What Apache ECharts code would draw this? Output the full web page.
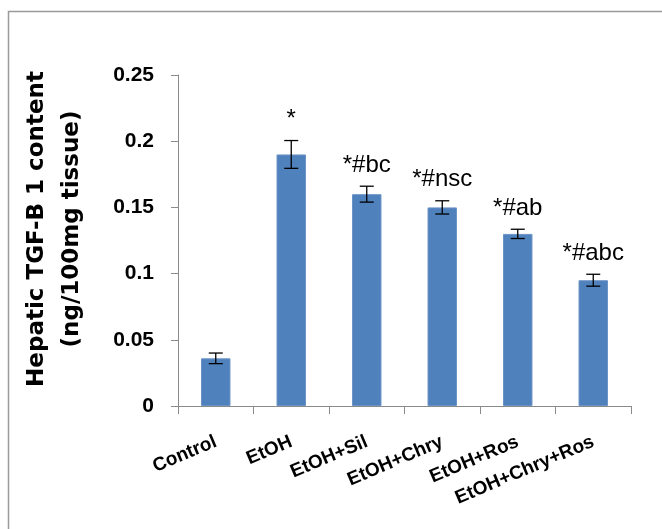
<!DOCTYPE html>
<html>
<head>
<meta charset="utf-8">
<script src="https://cdn.jsdelivr.net/npm/echarts@6/dist/echarts.min.js"></script>
<style>
html,body{margin:0;padding:0;background:#fff;}
#chart{width:662px;height:529px;}
</style>
</head>
<body>
<div id="chart"></div>
<script>
const categories = ['Control', 'EtOH', 'EtOH+Sil', 'EtOH+Chry', 'EtOH+Ros', 'EtOH+Chry+Ros'];
const means = [0.036, 0.190, 0.160, 0.150, 0.130, 0.095];
const errors = [0.004, 0.0105, 0.006, 0.005, 0.0035, 0.0045];
const sigLabels = ['', '*', '*#bc', '*#nsc', '*#ab', '*#abc'];
const yTicks = [0, 0.05, 0.1, 0.15, 0.2, 0.25];
const yTitle = ['Hepatic TGF-B 1 content', '(ng/100mg tissue)'];

const chart = echarts.init(document.getElementById('chart'));
const axisColor = '#8a8a8a';

chart.setOption({
  animation: false,
  backgroundColor: '#fff',
  grid: {left: 178, right: 31, top: 75, bottom: 123, outerBoundsMode: 'none'},
  graphic: [
    {type: 'rect', shape: {x: 8.5, y: 11.5, width: 700, height: 600},
     style: {fill: 'none', stroke: '#9a9a9a', lineWidth: 1.5}, silent: true},
    {type: 'text', x: 55, y: 229, rotation: Math.PI / 2,
     style: {text: yTitle.join('\n'), font: 'bold 23px "DejaVu Sans"', fill: '#000',
             align: 'center', verticalAlign: 'middle', lineHeight: 35}}
  ],
  xAxis: {
    type: 'category',
    data: categories,
    axisLine: {lineStyle: {color: axisColor, width: 1}},
    axisTick: {show: true, length: 8, lineStyle: {color: axisColor}},
    axisLabel: {rotate: 23, margin: 35, color: '#000', fontWeight: 'bold',
                fontSize: 19, fontFamily: '"Liberation Sans", Arial, sans-serif', interval: 0}
  },
  yAxis: {
    type: 'value',
    min: yTicks[0], max: yTicks[yTicks.length - 1], interval: yTicks[1] - yTicks[0],
    splitLine: {show: false},
    axisLine: {show: true, lineStyle: {color: axisColor, width: 1}},
    axisTick: {show: true, length: 7, lineStyle: {color: axisColor}},
    axisLabel: {margin: 24, color: '#000', fontWeight: 'bold', fontSize: 21,
                fontFamily: '"Liberation Sans", Arial, sans-serif',
                formatter: v => String(+v.toFixed(2))}
  },
  series: [
    {
      type: 'bar',
      data: means,
      barWidth: '39%',
      itemStyle: {color: '#4F81BD', borderColor: '#6b93c6', borderWidth: 1}
    },
    {
      type: 'custom',
      data: categories.map((c, i) => [i, means[i], errors[i]]),
      z: 5,
      renderItem: function (params, api) {
        const i = api.value(0);
        const m = api.value(1);
        const e = api.value(2);
        const top = api.coord([i, m + e]);
        const bot = api.coord([i, m - e]);
        const hw = 7;
        const ls = {stroke: '#000', lineWidth: 1.3};
        const children = [
          {type: 'line', shape: {x1: top[0], y1: top[1], x2: bot[0], y2: bot[1]}, style: ls},
          {type: 'line', shape: {x1: top[0] - hw, y1: top[1], x2: top[0] + hw, y2: top[1]}, style: ls},
          {type: 'line', shape: {x1: bot[0] - hw, y1: bot[1], x2: bot[0] + hw, y2: bot[1]}, style: ls}
        ];
        const lab = sigLabels[params.dataIndex];
        if (lab) {
          children.push({type: 'text', x: top[0], y: top[1] - 21,
            style: {text: lab, font: '24px "Liberation Sans", Arial, sans-serif', fill: '#000',
                    align: 'center', verticalAlign: 'middle'}});
        }
        return {type: 'group', children: children};
      }
    }
  ]
});
</script>
</body>
</html>
